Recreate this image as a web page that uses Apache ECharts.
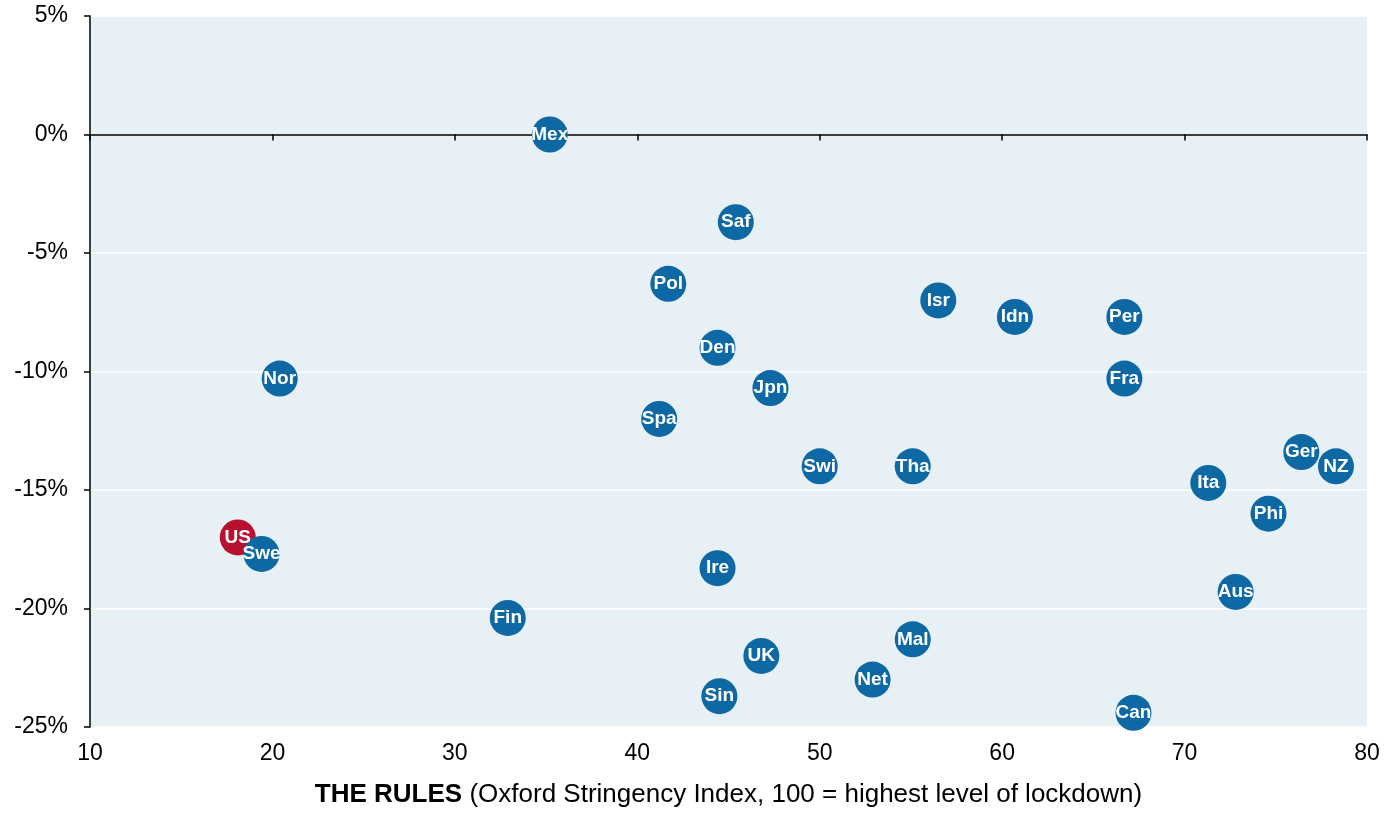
<!DOCTYPE html>
<html>
<head>
<meta charset="utf-8">
<script src="https://cdn.jsdelivr.net/npm/echarts@6/dist/echarts.min.js"></script>
<style>
  html, body { margin: 0; padding: 0; background: #fff; }
  #chart { width: 1398px; height: 813px; }
</style>
</head>
<body>
<div id="chart"></div>
<script>
// country codes, stringency index (x) and change (y, %)
const countries = ['Mex', 'Saf', 'Pol', 'Isr', 'Idn', 'Per', 'Den', 'Nor', 'Fra', 'Jpn', 'Spa', 'Swi', 'Tha', 'Ger', 'NZ', 'Ita', 'Phi', 'US', 'Swe', 'Ire', 'Aus', 'Fin', 'Mal', 'UK', 'Net', 'Sin', 'Can']
const stringency = [35.2, 45.4, 41.7, 56.5, 60.7, 66.7, 44.4, 20.4, 66.7, 47.3, 41.2, 50.0, 55.1, 76.4, 78.3, 71.3, 74.6, 18.1, 19.4, 44.4, 72.8, 32.9, 55.1, 46.8, 52.9, 44.5, 67.2]
const change = [0.0, -3.7, -6.3, -7.0, -7.7, -7.7, -9.0, -10.3, -10.3, -10.7, -12.0, -14.0, -14.0, -13.4, -14.0, -14.7, -16.0, -17.0, -17.7, -18.3, -19.3, -20.4, -21.3, -22.0, -23.0, -23.7, -24.4]
const highlight = ['US']

const chart = echarts.init(document.getElementById('chart'))
const font = 'Arial, "Liberation Sans", sans-serif'

const points = countries.map((c, i) => ({
  name: c,
  value: [stringency[i], change[i]],
  itemStyle: { color: highlight.includes(c) ? '#b8102f' : '#0e68a4', opacity: 1 },
}))
// draw highlighted point first so neighbours overlap it
points.sort((a, b) => (highlight.includes(b.name) ? 1 : 0) - (highlight.includes(a.name) ? 1 : 0))

const options = {
  backgroundColor: '#fff',
  animation: false,
  grid: {
    left: 90,
    right: 31,
    top: 16,
    bottom: 85,
    show: true,
    backgroundColor: '#e7f0f4',
    borderWidth: 0,
  },
  xAxis: [
    {
      type: 'value',
      min: 10,
      max: 80,
      interval: 10,
      position: 'bottom',
      axisLine: { show: false, onZero: false },
      axisTick: { show: false },
      splitLine: { show: false },
      axisLabel: { color: '#000', fontSize: 23, fontFamily: font, margin: 15 },
      name: '{b|THE RULES} (Oxford Stringency Index, 100 = highest level of lockdown)',
      nameLocation: 'middle',
      nameGap: 55,
      nameTextStyle: {
        color: '#000',
        fontSize: 26,
        fontFamily: font,
        rich: { b: { fontWeight: 'bold', fontSize: 26, fontFamily: font, color: '#000' } },
      },
    },
    {
      // zero line with tick marks
      type: 'value',
      min: 10,
      max: 80,
      interval: 10,
      position: 'top',
      axisLine: { show: true, onZero: true, lineStyle: { color: '#000', width: 1.5 } },
      axisTick: { show: true, inside: true, length: 6, lineStyle: { color: '#000', width: 1.5 } },
      axisLabel: { show: false },
      splitLine: { show: false },
    },
  ],
  yAxis: {
    type: 'value',
    min: -25,
    max: 5,
    interval: 5,
    axisLine: { show: true, onZero: false, lineStyle: { color: '#000', width: 1.5 } },
    axisTick: { show: true, length: 6, lineStyle: { color: '#000', width: 1.5 } },
    splitLine: { show: true, lineStyle: { color: '#fff', width: 1.5 } },
    axisLabel: {
      color: '#000',
      fontSize: 23,
      fontFamily: font,
      margin: 22,
      formatter: v => v + '%',
    },
  },
  series: [
    {
      type: 'scatter',
      symbolSize: 36,
      data: points,
      label: {
        show: true,
        position: 'inside',
        formatter: p => p.name,
        color: '#fff',
        fontWeight: 'bold',
        fontSize: 19,
        fontFamily: font,
      },
    },
  ],
}
chart.setOption(options)
</script>
</body>
</html>
